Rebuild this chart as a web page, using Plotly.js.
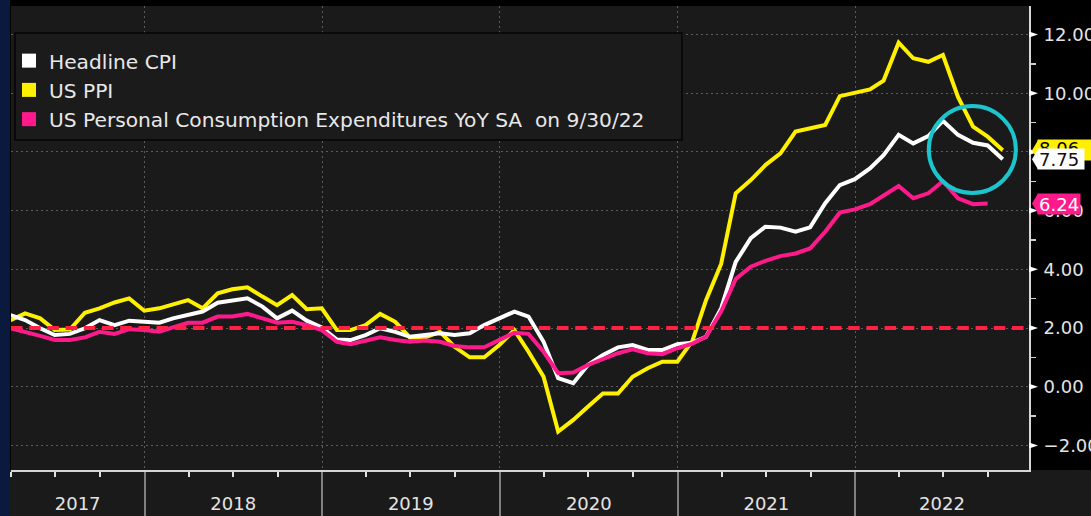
<!DOCTYPE html>
<html>
<head>
<meta charset="utf-8">
<script src="https://cdn.plot.ly/plotly-3.0.1.min.js"></script>
<style>
html,body{margin:0;padding:0;background:#000;}
#chart{width:1091px;height:516px;}
</style>
</head>
<body>
<div id="chart"></div>
<script>
// ---- data (month-end values, Mar 2017 onward) ----
const seriesNames = ['Headline CPI', 'US PPI', 'US Personal Consumption Expenditures YoY SA\u00a0 on 9/30/22'];
const firstMonth = [2017, 3];
const cpi = [
  2.44, 2.27, 1.99, 1.76, 1.80, 1.99, 2.27, 2.10, 2.25, 2.21,
  2.18, 2.33, 2.44, 2.56, 2.86, 2.93, 3.01, 2.73, 2.33, 2.59, 2.25, 2.02,
  1.61, 1.59, 1.76, 1.99, 1.87, 1.70, 1.76, 1.82, 1.76, 1.82, 2.10, 2.33,
  2.56, 2.39, 1.53, 0.29, 0.12, 0.74, 1.08, 1.34, 1.42, 1.25, 1.25, 1.45,
  1.50, 1.70, 2.67, 4.25, 5.06, 5.45, 5.42, 5.28, 5.43, 6.25, 6.87, 7.07,
  7.44, 7.89, 8.58, 8.29, 8.54, 9.06, 8.58, 8.31, 8.22, 7.75
];
const ppi = [
  2.27, 2.50, 2.33, 1.93, 1.95, 2.52, 2.67, 2.87, 3.01, 2.59,
  2.67, 2.82, 2.95, 2.67, 3.18, 3.32, 3.39, 3.07, 2.78, 3.12, 2.64, 2.67,
  1.93, 1.93, 2.10, 2.48, 2.21, 1.68, 1.68, 1.87, 1.36, 1.00, 1.00, 1.42,
  1.93, 1.19, 0.34, -1.53, -1.13, -0.68, -0.23, -0.23, 0.34, 0.63, 0.85, 0.85,
  1.56, 2.95, 4.18, 6.59, 7.04, 7.55, 7.95, 8.69, 8.80, 8.92, 9.90, 10.02,
  10.13, 10.43, 11.72, 11.19, 11.07, 11.30, 9.87, 8.86, 8.52, 8.06
];
const pce = [
  1.99, 1.87, 1.73, 1.59, 1.59, 1.68, 1.87, 1.80, 1.96, 1.93,
  1.87, 2.02, 2.18, 2.18, 2.39, 2.39, 2.48, 2.33, 2.18, 2.21, 2.10, 1.93,
  1.53, 1.45, 1.57, 1.68, 1.59, 1.53, 1.57, 1.53, 1.39, 1.34, 1.34, 1.59,
  1.84, 1.80, 1.19, 0.46, 0.48, 0.74, 0.93, 1.14, 1.27, 1.14, 1.11, 1.31,
  1.47, 1.70, 2.56, 3.67, 4.09, 4.29, 4.45, 4.54, 4.71, 5.28, 5.93, 6.04,
  6.22, 6.53, 6.84, 6.42, 6.59, 7.00, 6.42, 6.22, 6.24
];
const targetLevel = 2;
const yTickVals = [-2, 0, 2, 4, 6, 8, 10, 12];
const yearBoundaries = ['2018-01-01', '2019-01-01', '2020-01-01', '2021-01-01', '2022-01-01'];
const yearLabelDates = ['2017-08-16', '2018-07-02', '2019-07-02', '2020-07-02', '2021-07-02', '2022-06-28'];
const yearLabels = ['2017', '2018', '2019', '2020', '2021', '2022'];
const xRange = ['2017-04-01', '2022-12-24'];
const yRange = [-2.838, 12.971];
const highlight = {x0: '2022-06-01', x1: '2022-11-27', y0: 6.6, y1: 9.56};

// ---- helpers ----
function monthEnds(start, n) {
  const out = [];
  for (let i = 0; i < n; i++) {
    const d = new Date(Date.UTC(start[0], start[1] + i, 0));
    out.push(d.toISOString().slice(0, 10));
  }
  return out;
}
const xCpi = monthEnds(firstMonth, cpi.length);
const xPpi = monthEnds(firstMonth, ppi.length);
const xPce = monthEnds(firstMonth, pce.length);

const FONT = 'DejaVu Sans';
const colCpi = '#ffffff', colPpi = '#fff000', colPce = '#ff1a8c';

const traces = [
  {x: xPpi, y: ppi, mode: 'lines', line: {color: colPpi, width: 4}, showlegend: false, hoverinfo: 'skip', name: seriesNames[1]},
  {x: xCpi, y: cpi, mode: 'lines', line: {color: colCpi, width: 4}, showlegend: false, hoverinfo: 'skip', name: seriesNames[0]},
  {x: xPce, y: pce, mode: 'lines', line: {color: colPce, width: 4}, showlegend: false, hoverinfo: 'skip', name: seriesNames[2]},
  // legend entries (square swatches)
  {x: [null], y: [null], xaxis: 'x2', mode: 'markers', name: seriesNames[0], marker: {symbol: 'square', size: 14, color: colCpi}},
  {x: [null], y: [null], xaxis: 'x2', mode: 'markers', name: seriesNames[1], marker: {symbol: 'square', size: 14, color: colPpi}},
  {x: [null], y: [null], xaxis: 'x2', mode: 'markers', name: seriesNames[2], marker: {symbol: 'square', size: 14, color: colPce}}
];

const W = 1091, H = 516, mL = 11, mR = 62, mT = 6, mB = 46;
const pw = W - mL - mR, ph = H - mT - mB;
const px = v => (v - mL) / pw;          // page x -> paper x
const py = v => (H - mB - v) / ph;      // page y -> paper y

const shapes = [
  // bottom axis band
  {type: 'rect', xref: 'paper', yref: 'paper', x0: px(0), x1: px(W), y0: py(H), y1: 0,
   fillcolor: '#1a1a1a', line: {width: 0}, layer: 'below'},
  // left navy strip
  {type: 'rect', xref: 'paper', yref: 'paper', x0: px(0), x1: px(10), y0: py(H), y1: py(0),
   fillcolor: '#0a1a3c', line: {width: 0}, layer: 'above'},
  // 2% target line
  {type: 'line', xref: 'paper', yref: 'y', x0: 0, x1: 1, y0: targetLevel, y1: targetLevel,
   line: {color: '#ff2244', width: 4, dash: '11.5px,6.7px'}, layer: 'above'},
  // highlight circle
  {type: 'circle', xref: 'x', yref: 'y', x0: highlight.x0, x1: highlight.x1, y0: highlight.y0, y1: highlight.y1,
   line: {color: '#1cc4cc', width: 4}, layer: 'above'},
  // legend box backdrop
  {type: 'rect', xref: 'paper', yref: 'paper', x0: px(15), x1: px(682), y0: py(140), y1: py(33),
   fillcolor: '#1b1b1b', line: {color: '#050505', width: 1.5}, layer: 'above'}
];
// arrow markers at labelled y ticks
yTickVals.forEach(v => shapes.push({
  type: 'path', xref: 'paper', yref: 'y', xsizemode: 'pixel', ysizemode: 'pixel', xanchor: 1, yanchor: v,
  path: 'M 0,-3 L 9,0 L 0,3 Z', fillcolor: '#ffffff', line: {width: 0}, layer: 'above'
}));

// last-value labels
const endLabels = [
  {vals: ppi, fill: colPpi, txt: '#000000', w: 60, valign: 'bottom'},
  {vals: cpi, fill: colCpi, txt: '#101010', w: 44, valign: 'middle'},
  {vals: pce, fill: colPce, txt: '#ffffff', w: 40, valign: 'middle'}
];
const annotations = [];
endLabels.forEach(l => {
  const v = l.vals[l.vals.length - 1];
  shapes.push({type: 'path', xref: 'paper', yref: 'y', xsizemode: 'pixel', ysizemode: 'pixel', xanchor: 1, yanchor: v,
    path: 'M 3,0 L 9,10 L 9,-10 Z', fillcolor: l.fill, line: {width: 0}, layer: 'above'});
  annotations.push({xref: 'paper', yref: 'y', x: 1, y: v, xanchor: 'left', yanchor: 'middle', xshift: 8,
    text: v.toFixed(2), showarrow: false, align: 'left', valign: l.valign, bgcolor: l.fill, borderpad: 1, width: l.w, height: 18,
    font: {family: FONT, size: 18, color: l.txt}});
});

const layout = {
  width: W, height: H,
  margin: {l: mL, r: mR, t: mT, b: mB, pad: 0},
  paper_bgcolor: '#000000', plot_bgcolor: '#1a1a1a',
  showlegend: true,
  legend: {x: px(9), y: py(41), xanchor: 'left', yanchor: 'top', bgcolor: 'rgba(0,0,0,0)', borderwidth: 0,
    font: {family: FONT, size: 20.2, color: '#e8e8e8'}, tracegroupgap: 0, itemclick: false},
  xaxis: {
    type: 'date', range: xRange, fixedrange: true,
    tickmode: 'array', tickvals: yearBoundaries, showticklabels: false,
    ticks: 'outside', ticklen: 46, tickwidth: 2, tickcolor: '#808080',
    showgrid: true, gridcolor: '#5c5c5c', griddash: '2px,3px', gridwidth: 1,
    showline: true, linecolor: '#d6d6d6', linewidth: 2, zeroline: false,
    minor: {tickmode: 'linear', tick0: '2017-04-01', dtick: 'M3', ticks: 'outside', ticklen: 5, tickwidth: 2, tickcolor: '#e0e0e0', showgrid: false}
  },
  xaxis2: {
    type: 'date', overlaying: 'x', matches: 'x', anchor: 'y', side: 'bottom',
    tickmode: 'array', tickvals: yearLabelDates, ticktext: yearLabels,
    ticks: 'outside', ticklen: 17, tickcolor: 'rgba(0,0,0,0)',
    showgrid: false, showline: false, zeroline: false,
    tickfont: {family: FONT, size: 18, color: '#e4e4e4'}
  },
  yaxis: {
    side: 'right', range: yRange, fixedrange: true,
    tickmode: 'array', tickvals: yTickVals, tickformat: '.2f',
    ticks: 'outside', ticklen: 9, tickcolor: 'rgba(0,0,0,0)',
    tickfont: {family: FONT, size: 18, color: '#e4e4e4'},
    showgrid: true, gridcolor: '#5c5c5c', griddash: '2px,3px', gridwidth: 1,
    showline: true, linecolor: '#d6d6d6', linewidth: 2, zeroline: false,
    minor: {tickmode: 'linear', tick0: 1, dtick: 2, ticks: 'outside', ticklen: 5, tickwidth: 1.5, tickcolor: '#cfcfcf', showgrid: false}
  },
  shapes: shapes,
  annotations: annotations
};

Plotly.newPlot('chart', traces, layout, {displayModeBar: false, staticPlot: true});
</script>
</body>
</html>
